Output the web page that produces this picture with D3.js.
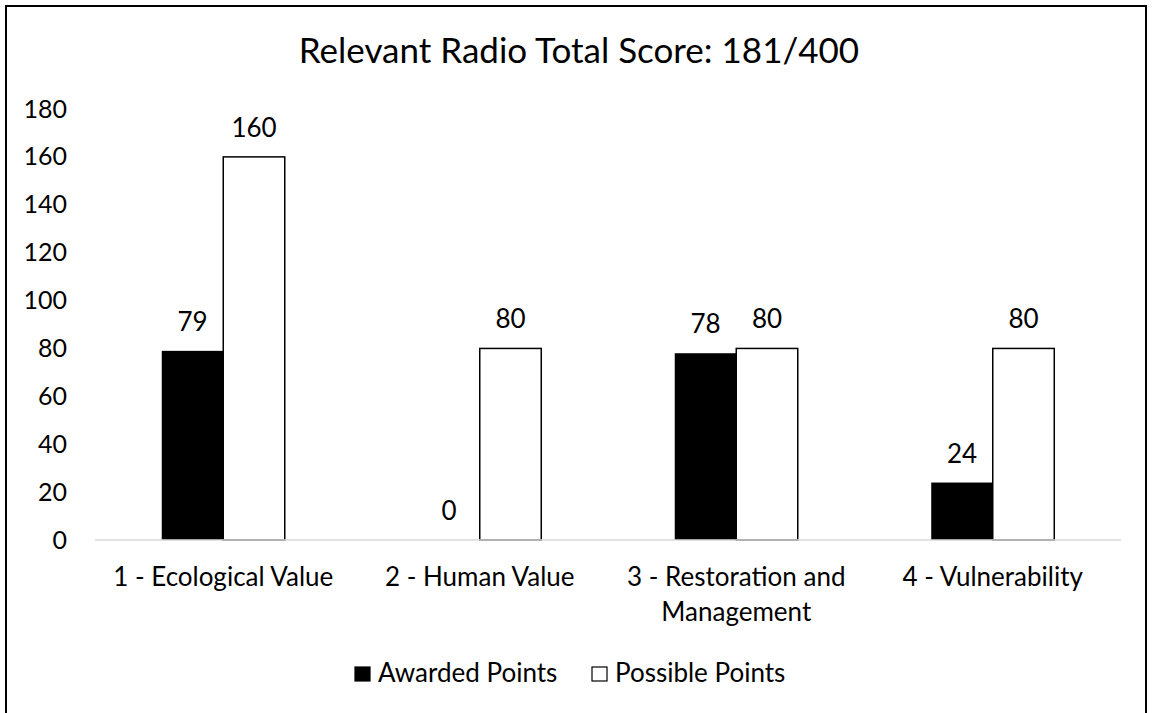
<!DOCTYPE html>
<html>
<head>
<meta charset="utf-8">
<script src="https://cdn.jsdelivr.net/npm/d3@7"></script>
<style>
  body { margin: 0; background: #fff; }
  text { font-family: Lato, "Open Sans", sans-serif; fill: #000; }
</style>
</head>
<body>
<div id="chart"></div>
<script>
// chart data
let categories = ["1 - Ecological Value", "2 - Human Value", "3 - Restoration and|Management", "4 - Vulnerability"];
let seriesNames = ["Awarded Points", "Possible Points"];
let awarded = [79, 0, 78, 24];
let possible = [160, 80, 80, 80];
let yTicks = [0, 20, 40, 60, 80, 100, 120, 140, 160, 180];
let title = "Relevant Radio Total Score: 181/400";

let width = 1152, height = 713;
let margin = {left: 95, right: 31, top: 109, bottom: 173};

let svg = d3.select("#chart").append("svg")
	.attr("width", width)
	.attr("height", height);

// outer frame (bottom edge runs off the picture)
svg.append("rect")
	.attr("x", 6).attr("y", 6)
	.attr("width", width - 12).attr("height", height + 10)
	.attr("fill", "#fff")
	.attr("stroke", "#000")
	.attr("stroke-width", 2);

svg.append("text")
	.attr("x", 579)
	.attr("y", 63)
	.attr("text-anchor", "middle")
	.style("font-size", "35px")
	.text(title);

let x0 = d3.scaleBand()
	.domain(categories)
	.range([margin.left, width - margin.right])
	.paddingInner(0)
	.paddingOuter(0);

let x1 = d3.scaleBand()
	.domain(seriesNames)
	.range([0, x0.bandwidth()])
	.paddingInner(0)
	.paddingOuter(1.085);

let y = d3.scaleLinear()
	.domain([0, 180])
	.range([height - margin.bottom, margin.top]);

let color = d3.scaleOrdinal()
	.domain(seriesNames)
	.range(["#000", "#fff"]);

// y axis: labels only
let yAxis = svg.append("g")
	.attr("transform", "translate(" + (margin.left - 28) + ",0)")
	.call(d3.axisLeft(y).tickValues(yTicks).tickSize(0).tickPadding(0));
yAxis.select(".domain").remove();
yAxis.selectAll("text")
	.style("font-size", "25px")
	.style("font-family", "Lato, sans-serif");

let data = categories.map(function(c, i) {
	return {cat: c, values: [{name: seriesNames[0], value: awarded[i]}, {name: seriesNames[1], value: possible[i]}]};
});

let groups = svg.selectAll(".grp")
	.data(data)
	.enter().append("g")
	.attr("class", "grp")
	.attr("transform", function(d) { return "translate(" + x0(d.cat) + ",0)"; });

groups.selectAll("rect")
	.data(function(d) { return d.values; })
	.enter().append("rect")
	.attr("x", function(d) { return x1(d.name); })
	.attr("y", function(d) { return y(d.value); })
	.attr("width", x1.bandwidth())
	.attr("height", function(d) { return y(0) - y(d.value); })
	.attr("fill", function(d) { return color(d.name); })
	.attr("stroke", function(d) { return d.name == seriesNames[1] ? "#000" : "none"; })
	.attr("stroke-width", 1.5);

groups.selectAll(".lbl")
	.data(function(d) { return d.values; })
	.enter().append("text")
	.attr("class", "lbl")
	.attr("x", function(d) { return x1(d.name) + x1.bandwidth() / 2; })
	.attr("y", function(d) { return y(d.value) - 20; })
	.attr("text-anchor", "middle")
	.style("font-size", "26px")
	.text(function(d) { return d.value; });

// x axis line
svg.append("line")
	.attr("x1", margin.left).attr("x2", width - margin.right)
	.attr("y1", y(0)).attr("y2", y(0))
	.attr("stroke", "#d9d9d9")
	.attr("stroke-width", 1.5);

// category labels (| = line break)
let catLabels = svg.selectAll(".cat")
	.data(categories)
	.enter().append("text")
	.attr("class", "cat")
	.attr("text-anchor", "middle")
	.style("font-size", "26px");
catLabels.selectAll("tspan")
	.data(function(d) { return d.split("|").map(function(t) { return {t: t, c: d}; }); })
	.enter().append("tspan")
	.attr("x", function(d) { return x0(d.c) + x0.bandwidth() / 2; })
	.attr("y", function(d, i) { return y(0) + 46 + i * 35; })
	.text(function(d) { return d.t; });

// legend
let legendX = [355, 592];
let legend = svg.selectAll(".leg")
	.data(seriesNames)
	.enter().append("g")
	.attr("class", "leg")
	.attr("transform", function(d, i) { return "translate(" + legendX[i] + ",667)"; });
legend.append("rect")
	.attr("width", 15).attr("height", 14)
	.attr("fill", color)
	.attr("stroke", "#000")
	.attr("stroke-width", 1.2);
legend.append("text")
	.attr("x", 23)
	.attr("y", 15)
	.style("font-size", "26px")
	.text(function(d) { return d; });
</script>
</body>
</html>
